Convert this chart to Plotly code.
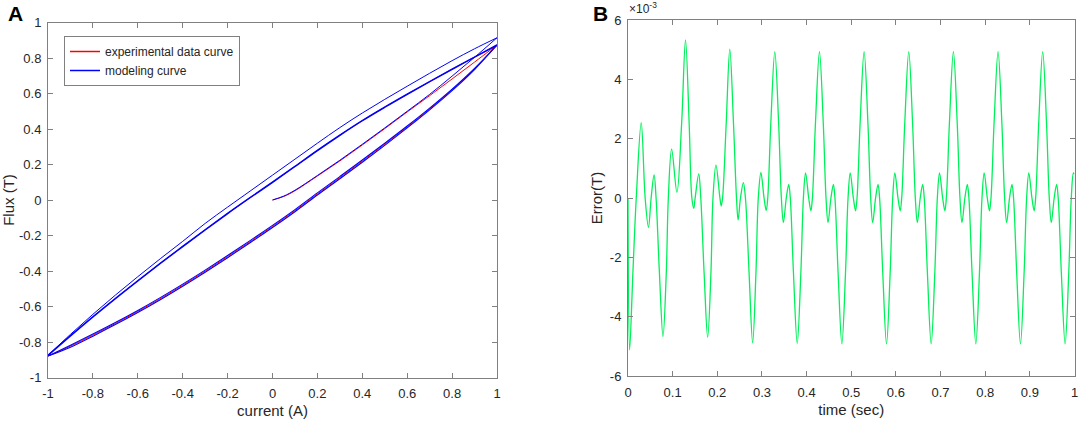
import plotly.graph_objects as go

# ---- panel A : hysteresis loop ----
current = [-1.0, -0.9, -0.8, -0.7, -0.6, -0.5, -0.4, -0.3, -0.2, -0.1, 0.0,
           0.1, 0.2, 0.3, 0.4, 0.5, 0.6, 0.7, 0.8, 0.9, 1.0]
# model, first descending branch (outer thin line)
flux_upper_first = [-0.875, -0.757, -0.644, -0.536, -0.432, -0.331, -0.233, -0.132, -0.040, 0.050, 0.140,
                    0.230, 0.320, 0.408, 0.490, 0.567, 0.641, 0.714, 0.785, 0.852, 0.914]
# steady descending branch
flux_upper = [-0.875, -0.765, -0.658, -0.555, -0.455, -0.357, -0.262, -0.168, -0.076, 0.013, 0.100,
              0.189, 0.279, 0.365, 0.447, 0.523, 0.596, 0.667, 0.737, 0.805, 0.873]
# ascending branches
flux_lower_first = [-0.879, -0.829, -0.767, -0.702, -0.634, -0.562, -0.486, -0.407, -0.325, -0.241, -0.155,
                    -0.066, 0.028, 0.120, 0.213, 0.308, 0.406, 0.508, 0.616, 0.735, 0.873]
flux_lower_exp = [-0.879, -0.823, -0.761, -0.696, -0.628, -0.556, -0.480, -0.401, -0.319, -0.235, -0.149,
                  -0.060, 0.034, 0.126, 0.219, 0.314, 0.411, 0.513, 0.621, 0.739, 0.873]
flux_lower = [-0.879, -0.818, -0.755, -0.690, -0.622, -0.550, -0.474, -0.395, -0.313, -0.229, -0.143,
              -0.054, 0.040, 0.132, 0.225, 0.320, 0.417, 0.518, 0.625, 0.742, 0.873]
# initial magnetisation curves
init_current = [0.0, 0.05, 0.1, 0.2, 0.3, 0.4, 0.5, 0.6, 0.7, 0.8, 0.9, 1.0]
init_flux_exp = [0.000, 0.020, 0.052, 0.135, 0.220, 0.310, 0.402, 0.496, 0.588, 0.682, 0.777, 0.873]
init_flux_model = [0.000, 0.022, 0.055, 0.138, 0.224, 0.314, 0.406, 0.500, 0.595, 0.698, 0.804, 0.914]

a_ticks = [-1, -0.8, -0.6, -0.4, -0.2, 0, 0.2, 0.4, 0.6, 0.8, 1]
a_ticktext = ["-1", "-0.8", "-0.6", "-0.4", "-0.2", "0", "0.2", "0.4", "0.6", "0.8", "1"]

# ---- panel B : error (x 1e-3 T) ----
time_s = [0.0000, 0.0036, 0.0110, 0.0185, 0.0296, 0.0384, 0.0458, 0.0518, 0.0584, 0.0629, 0.0703, 0.0784,
          0.0858, 0.0903, 0.0977, 0.1096, 0.1201, 0.1288, 0.1370, 0.1430, 0.1473, 0.1504, 0.1584, 0.1630,
          0.1704, 0.1784, 0.1858, 0.1903, 0.1970, 0.2059, 0.2088, 0.2118, 0.2199, 0.2280, 0.2363, 0.2430,
          0.2466, 0.2519, 0.2584, 0.2630, 0.2711, 0.2792, 0.2866, 0.2918,
          0.2977, 0.3047, 0.3096, 0.3130, 0.3198, 0.3288, 0.3374, 0.3435, 0.3480, 0.3545, 0.3600, 0.3635,
          0.3705, 0.3790, 0.3872, 0.3928,
          0.3977, 0.4047, 0.4096, 0.4130, 0.4198, 0.4288, 0.4374, 0.4435, 0.4480, 0.4545, 0.4600, 0.4635,
          0.4705, 0.4790, 0.4872, 0.4928,
          0.4977, 0.5047, 0.5096, 0.5130, 0.5198, 0.5288, 0.5374, 0.5435, 0.5480, 0.5545, 0.5600, 0.5635,
          0.5705, 0.5790, 0.5872, 0.5928,
          0.5977, 0.6047, 0.6096, 0.6130, 0.6198, 0.6288, 0.6374, 0.6435, 0.6480, 0.6545, 0.6600, 0.6635,
          0.6705, 0.6790, 0.6872, 0.6928,
          0.6977, 0.7047, 0.7096, 0.7130, 0.7198, 0.7288, 0.7374, 0.7435, 0.7480, 0.7545, 0.7600, 0.7635,
          0.7705, 0.7790, 0.7872, 0.7928,
          0.7977, 0.8047, 0.8096, 0.8130, 0.8198, 0.8288, 0.8374, 0.8435, 0.8480, 0.8545, 0.8600, 0.8635,
          0.8705, 0.8790, 0.8872, 0.8928,
          0.8977, 0.9047, 0.9096, 0.9130, 0.9198, 0.9288, 0.9374, 0.9435, 0.9480, 0.9545, 0.9600, 0.9635,
          0.9705, 0.9790, 0.9872, 0.9928,
          0.9977, 1.0000]
error_e3 = [0.00, -5.12, -2.50, 0.00, 2.54, 0.00, -0.99, 0.00, 0.78, 0.00, -2.50, -4.67,
            -2.50, 0.00, 1.65, 0.19, 2.50, 5.33, 2.50, 0.00, -0.35, 0.00, 0.81, 0.00,
            -2.50, -4.70, -2.50, 0.00, 1.11, 0.00, -0.27, 0.00, 2.50, 5.02, 2.50, 0.00,
            -0.74, 0.00, 0.52, 0.00, -2.50, -4.88, -2.50, 0.00,
            0.86, 0.00, -0.42, 0.00, 2.50, 4.93, 2.50, 0.00, -0.83, 0.00, 0.46, 0.00,
            -2.50, -4.90, -2.50, 0.00,
            0.85, 0.00, -0.43, 0.00, 2.50, 4.93, 2.50, 0.00, -0.83, 0.00, 0.46, 0.00,
            -2.50, -4.92, -2.50, 0.00,
            0.85, 0.00, -0.43, 0.00, 2.50, 4.93, 2.50, 0.00, -0.83, 0.00, 0.46, 0.00,
            -2.50, -4.92, -2.50, 0.00,
            0.85, 0.00, -0.43, 0.00, 2.50, 4.93, 2.50, 0.00, -0.83, 0.00, 0.46, 0.00,
            -2.50, -4.92, -2.50, 0.00,
            0.85, 0.00, -0.43, 0.00, 2.50, 4.93, 2.50, 0.00, -0.83, 0.00, 0.46, 0.00,
            -2.50, -4.92, -2.50, 0.00,
            0.85, 0.00, -0.43, 0.00, 2.50, 4.93, 2.50, 0.00, -0.83, 0.00, 0.46, 0.00,
            -2.50, -4.92, -2.50, 0.00,
            0.85, 0.00, -0.43, 0.00, 2.50, 4.93, 2.50, 0.00, -0.83, 0.00, 0.46, 0.00,
            -2.50, -4.92, -2.50, 0.00,
            0.85, 0.80]

b_xticks = [0, 0.1, 0.2, 0.3, 0.4, 0.5, 0.6, 0.7, 0.8, 0.9, 1]
b_xticktext = ["0", "0.1", "0.2", "0.3", "0.4", "0.5", "0.6", "0.7", "0.8", "0.9", "1"]
b_yticks = [-6, -4, -2, 0, 2, 4, 6]
b_yticktext = ["-6", "-4", "-2", "0", "2", "4", "6"]

RED = "#FF0000"
BLUE = "#0000FF"
GREEN = "#00F05A"
FONT = "Liberation Sans, Arial, sans-serif"
W, H = 1079, 421

fig = go.Figure()

# legend-only entries (slightly thicker sample lines)
fig.add_trace(go.Scatter(x=[None], y=[None], mode="lines", name="experimental data curve",
                         line=dict(color=RED, width=1.5)))
fig.add_trace(go.Scatter(x=[None], y=[None], mode="lines", name="modeling curve",
                         line=dict(color=BLUE, width=1.5)))

# experimental (red) drawn first, model (blue) on top
red_branches = [
    (init_current, init_flux_exp),
    (current[::-1], flux_upper[::-1]),
    (current, flux_lower_exp),
]
for xs, ys in red_branches:
    fig.add_trace(go.Scatter(x=xs, y=ys, mode="lines", showlegend=False,
                             line=dict(color=RED, width=1, shape="spline")))

blue_branches = [
    (current[::-1], flux_upper[::-1], 1.6),
    (init_current, init_flux_model, 1.0),
    (current[::-1], flux_upper_first[::-1], 1.0),
    (current, flux_lower_first, 1.1),
    (current, flux_lower, 1.1),
]
for xs, ys, w in blue_branches:
    fig.add_trace(go.Scatter(x=xs, y=ys, mode="lines", showlegend=False,
                             line=dict(color=BLUE, width=w, shape="spline")))

fig.add_trace(go.Scatter(x=time_s, y=error_e3, mode="lines", xaxis="x2", yaxis="y2",
                         showlegend=False,
                         line=dict(color=GREEN, width=1.3, shape="spline", smoothing=1)))

axis_style = dict(showline=True, linecolor="#808080", linewidth=1, mirror="allticks",
                  ticks="inside", ticklen=5, tickcolor="#808080", showgrid=False,
                  zeroline=False, automargin=False, tickfont=dict(size=13, color="#262626"),
                  tickmode="array", ticklabeloverflow="allow")

fig.update_layout(
    template="none",
    width=W, height=H,
    margin=dict(l=0, r=0, t=0, b=0),
    paper_bgcolor="white", plot_bgcolor="white",
    font=dict(family=FONT, color="#262626"),
    xaxis=dict(axis_style, domain=[48 / W, 497 / W], range=[-1, 1],
               tickvals=a_ticks, ticktext=a_ticktext, anchor="y", ticklabelstandoff=4,
               title=dict(text="current (A)", font=dict(size=15), standoff=5)),
    yaxis=dict(axis_style, domain=[1 - 377.5 / H, 1 - 22.5 / H], range=[-1, 1],
               tickvals=a_ticks, ticktext=a_ticktext, anchor="x", ticklabelstandoff=3,
               title=dict(text="Flux (T)", font=dict(size=15), standoff=4)),
    xaxis2=dict(axis_style, domain=[628 / W, 1074.5 / W], range=[0, 1],
                tickvals=b_xticks, ticktext=b_xticktext, anchor="y2", ticklabelstandoff=4,
                title=dict(text="time (sec)", font=dict(size=15), standoff=5)),
    yaxis2=dict(axis_style, domain=[1 - 376 / H, 1 - 20 / H], range=[-6, 6],
                tickvals=b_yticks, ticktext=b_yticktext, anchor="x2", ticklabelstandoff=3,
                title=dict(text="Error(T)", font=dict(size=15), standoff=3)),
    legend=dict(x=64 / W, y=1 - 36 / H, xanchor="left", yanchor="top",
                bgcolor="white", bordercolor="#808080", borderwidth=1,
                font=dict(size=12, color="#262626"), tracegroupgap=0),
    annotations=[
        dict(text="<b>A</b>", x=6 / W, y=1 - 0 / H, xref="paper", yref="paper",
             xanchor="left", yanchor="top", showarrow=False,
             font=dict(size=21, color="black")),
        dict(text="<b>B</b>", x=591 / W, y=1 - 0 / H, xref="paper", yref="paper",
             xanchor="left", yanchor="top", showarrow=False,
             font=dict(size=21, color="black")),
        dict(text="\u00d710<sup>-3</sup>", x=627 / W, y=1 - 18 / H, xref="paper", yref="paper",
             xanchor="left", yanchor="bottom", showarrow=False,
             font=dict(size=12, color="#262626")),
    ],
)

# page body has a default 8px margin; drop it so the figure sits at the window origin
fig.write_html("out.html", config={"displayModeBar": False},
               post_script="document.body.style.margin='0px';")
